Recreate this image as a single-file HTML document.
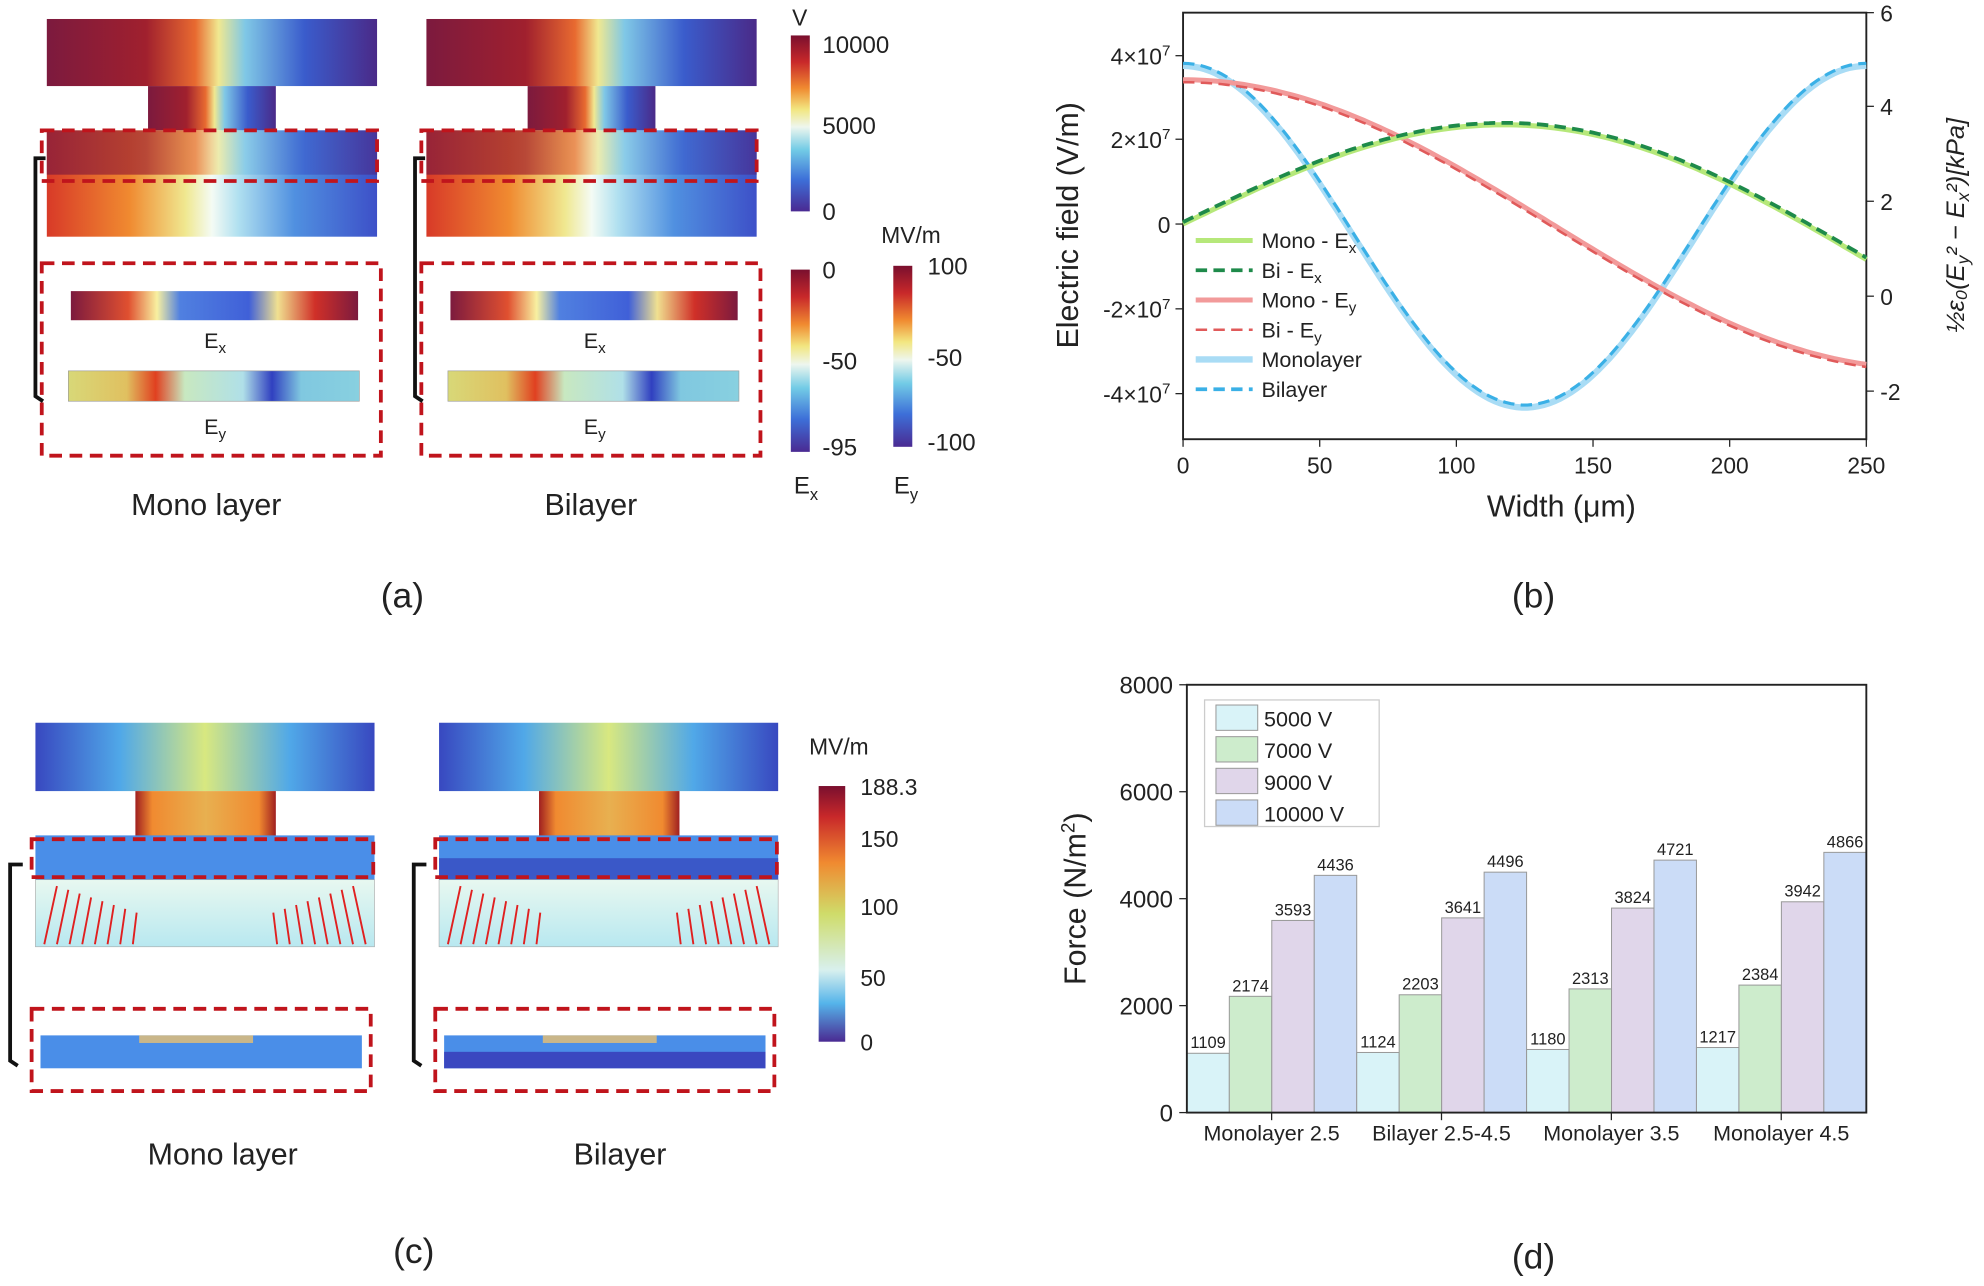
<!DOCTYPE html>
<html><head><meta charset="utf-8"><style>
html,body{margin:0;padding:0;background:#fff}
svg{display:block}
text{font-family:"Liberation Sans",sans-serif;fill:#222}
</style></head><body>
<svg id="s" width="1984" height="1286" viewBox="0 0 1568 1016" preserveAspectRatio="none" xmlns="http://www.w3.org/2000/svg">
<defs>
<linearGradient id="jetV" x1="0" y1="0" x2="0" y2="1">
<stop offset="0" stop-color="#7a0f2e"/><stop offset="0.15" stop-color="#c8282a"/><stop offset="0.3" stop-color="#f08a30"/><stop offset="0.42" stop-color="#f2e680"/><stop offset="0.52" stop-color="#eef6ee"/><stop offset="0.65" stop-color="#72cbe6"/><stop offset="0.82" stop-color="#3d6fd8"/><stop offset="1" stop-color="#4a2a92"/></linearGradient>
<linearGradient id="jetC" x1="0" y1="0" x2="0" y2="1">
<stop offset="0" stop-color="#7a0f2e"/><stop offset="0.12" stop-color="#c8282a"/><stop offset="0.3" stop-color="#f08a30"/><stop offset="0.5" stop-color="#cfdc6a"/><stop offset="0.72" stop-color="#d8f0ee"/><stop offset="0.85" stop-color="#55b4ea"/><stop offset="1" stop-color="#4a2a92"/></linearGradient>
<linearGradient id="topA" x1="0" y1="0" x2="1" y2="0">
<stop offset="0" stop-color="#7c1a3e"/><stop offset="0.3" stop-color="#a0202e"/><stop offset="0.45" stop-color="#e86a30"/><stop offset="0.52" stop-color="#f0e890"/><stop offset="0.6" stop-color="#80c8e6"/><stop offset="0.78" stop-color="#3a5ccc"/><stop offset="1" stop-color="#4a2a88"/></linearGradient>
<linearGradient id="botA" x1="0" y1="0" x2="1" y2="0">
<stop offset="0" stop-color="#d83a28"/><stop offset="0.25" stop-color="#f08a30"/><stop offset="0.42" stop-color="#f0e890"/><stop offset="0.5" stop-color="#f4fbf4"/><stop offset="0.58" stop-color="#b0e0f0"/><stop offset="0.75" stop-color="#5090e0"/><stop offset="1" stop-color="#3d50c8"/></linearGradient>
<linearGradient id="exA" x1="0" y1="0" x2="1" y2="0">
<stop offset="0" stop-color="#7c1a3e"/><stop offset="0.2" stop-color="#e05030"/><stop offset="0.3" stop-color="#f8f0a0"/><stop offset="0.38" stop-color="#5080e0"/><stop offset="0.62" stop-color="#4060d8"/><stop offset="0.72" stop-color="#f0e090"/><stop offset="0.85" stop-color="#d03028"/><stop offset="1" stop-color="#7c1a3e"/></linearGradient>
<linearGradient id="eyA" x1="0" y1="0" x2="1" y2="0">
<stop offset="0" stop-color="#d8d878"/><stop offset="0.2" stop-color="#e0c060"/><stop offset="0.3" stop-color="#e04020"/><stop offset="0.4" stop-color="#c8e8c0"/><stop offset="0.6" stop-color="#b0e0e8"/><stop offset="0.7" stop-color="#3040c0"/><stop offset="0.8" stop-color="#80c8e0"/><stop offset="1" stop-color="#88d0e0"/></linearGradient>
<linearGradient id="topC" x1="0" y1="0" x2="1" y2="0">
<stop offset="0" stop-color="#3848c0"/><stop offset="0.25" stop-color="#50a8e8"/><stop offset="0.5" stop-color="#d8e880"/><stop offset="0.75" stop-color="#50a8e8"/><stop offset="1" stop-color="#3848c0"/></linearGradient>
<linearGradient id="neckC" x1="0" y1="0" x2="1" y2="0">
<stop offset="0" stop-color="#a02020"/><stop offset="0.12" stop-color="#f08a30"/><stop offset="0.5" stop-color="#e8b050"/><stop offset="0.88" stop-color="#f08a30"/><stop offset="1" stop-color="#a02020"/></linearGradient>
<linearGradient id="midC" x1="0" y1="0" x2="0" y2="1">
<stop offset="0" stop-color="#e8f8f0"/><stop offset="1" stop-color="#b8e8f0"/></linearGradient>
</defs>
<g id="g"></g>
</svg>
<script>
const g=document.getElementById('g');let h='';
function R(x,y,w,hh,f,extra){h+=`<rect x="${x}" y="${y}" width="${w}" height="${hh}" fill="${f}" ${extra||''}/>`;}
function T(x,y,t,s,a,extra){h+=`<text x="${x}" y="${y}" font-size="${s}" text-anchor="${a||'middle'}" ${extra||''}>${t}</text>`;}
function D(x,y,w,hh){h+=`<rect x="${x}" y="${y}" width="${w}" height="${hh}" fill="none" stroke="#c0141c" stroke-width="3" stroke-dasharray="10,6"/>`;}
for(const o of [0,300]){
 R(37+o,15,261,53,'url(#topA)');R(117+o,68,101,35,'url(#topA)');
 R(37+o,103,261,84,'url(#botA)');
 R(37+o,103,261,35,'url(#topA)','opacity="0.7"');
 D(33+o,103,265,40);D(33+o,208,268,152);
 R(56+o,230,227,23,'url(#exA)');R(54+o,293,230,24,'url(#eyA)','stroke="#999" stroke-width="0.5"');
 h+=`<text x="${170+o}" y="275" font-size="17" text-anchor="middle">E<tspan font-size="12" dy="4">x</tspan></text>`;
 h+=`<text x="${170+o}" y="343" font-size="17" text-anchor="middle">E<tspan font-size="12" dy="4">y</tspan></text>`;
 h+=`<path d="M${36+o},125 L${28+o},125 L${28+o},313 L${34+o},317" fill="none" stroke="#111" stroke-width="3"/>`;
}
T(163,407,'Mono layer',24);T(467,407,'Bilayer',24);T(318,480,'(a)',28);
R(625,28,15,139,'url(#jetV)');T(632,20,'V',18);
T(650,42,'10000',19,'start');T(650,106,'5000',19,'start');T(650,174,'0',19,'start');
R(625,213,15,144,'url(#jetV)');R(706,210,15,143,'url(#jetV)');
T(720,192,'MV/m',18);
T(650,220,'0',19,'start');T(650,292,'-50',19,'start');T(650,360,'-95',19,'start');
T(733,217,'100',19,'start');T(733,289,'-50',19,'start');T(733,356,'-100',19,'start');
h+=`<text x="637" y="390" font-size="19" text-anchor="middle">E<tspan font-size="13" dy="5">x</tspan></text>`;
h+=`<text x="716" y="390" font-size="19" text-anchor="middle">E<tspan font-size="13" dy="5">y</tspan></text>`;
const X0=935,X1=1475;const xs=w=>X0+w*2.16;
h+=`<rect x="935" y="10" width="540" height="337" fill="none" stroke="#222" stroke-width="1.5"/>`;
for(const [v,y] of [['4×10<tspan dy="-7" font-size="12">7</tspan>',44],['2×10<tspan dy="-7" font-size="12">7</tspan>',110],['0',177],['-2×10<tspan dy="-7" font-size="12">7</tspan>',244],['-4×10<tspan dy="-7" font-size="12">7</tspan>',311]]){h+=`<line x1="935" y1="${y}" x2="929" y2="${y}" stroke="#222"/>`;T(925,y+7,v,18,'end');}
for(const [v,y] of [['6',10],['4',84],['2',159],['0',234],['-2',309]]){h+=`<line x1="1475" y1="${y}" x2="1481" y2="${y}" stroke="#222"/>`;T(1486,y+7,v,18,'start');}
for(let w=0;w<=250;w+=50){h+=`<line x1="${xs(w)}" y1="347" x2="${xs(w)}" y2="353" stroke="#222"/>`;T(xs(w),374,w,18);}
T(1234,408,'Width (μm)',24);
T(0,0,'Electric field (V/m)',24,'middle','transform="translate(852,178) rotate(-90)"');
h+=`<text transform="translate(1552,178) rotate(-90)" font-size="20" text-anchor="middle" font-style="italic" font-family="Liberation Serif">½ε₀(E<tspan font-size="14" dy="4">y</tspan><tspan dy="-4">² − E</tspan><tspan font-size="14" dy="4">x</tspan><tspan dy="-4">²)[kPa]</tspan></text>`;
function P(f,c,dash,wd,off){let d='';for(let w=0;w<=250;w+=2){d+=(w?'L':'M')+xs(w).toFixed(1)+','+(f(w)+(off||0)).toFixed(1);}h+=`<path d="${d}" fill="none" stroke="${c}" stroke-width="${wd}" ${dash?'stroke-dasharray="9,5"':''}/>`;}
const ex=w=>177+28*(w/250)-92*Math.sin(Math.PI*w/250);
const ey=w=>177-114*Math.cos(Math.PI*w/270);
const pr=w=>187-135*Math.cos(2*Math.PI*w/250);
P(pr,'#a9dcf5',0,5);P(w=>pr(w)-2,'#3ab0e6',1,2.5);
P(ey,'#f29a9a',0,4);P(w=>ey(w)+2,'#e05a5a',1,2);
P(ex,'#b6e87a',0,4);P(w=>ex(w)-1.5,'#1e8a4a',1,3);
const leg=[['Mono - E','x','#b6e87a',0,4],['Bi - E','x','#1e8a4a',1,3],['Mono - E','y','#f29a9a',0,4],['Bi - E','y','#e05a5a',1,2],['Monolayer','','#a9dcf5',0,5],['Bilayer','','#3ab0e6',1,3]];
leg.forEach((l,i)=>{const y=190+i*23.5;h+=`<line x1="945" y1="${y}" x2="990" y2="${y}" stroke="${l[2]}" stroke-width="${l[4]}" ${l[3]?'stroke-dasharray="9,5"':''}/>`;h+=`<text x="997" y="${y+6}" font-size="17">${l[0]}<tspan font-size="12" dy="4">${l[1]}</tspan></text>`;});
T(1212,480,'(b)',28);
for(const [o,bi] of [[0,0],[319,1]]){
 R(28+o,571,268,54,'url(#topC)');R(107+o,625,111,40,'url(#neckC)');
 R(28+o,660,268,35,'#4a8ee8');if(bi)R(28+o,678,268,17,'#3a58c8');
 R(28+o,695,268,53,'url(#midC)','stroke="#aaa" stroke-width="0.5"');
 for(let i=0;i<8;i++){h+=`<line x1="${35+o+i*10}" y1="746" x2="${45+o+i*9}" y2="${700+i*3}" stroke="#e02020" stroke-width="1.5"/><line x1="${289+o-i*10}" y1="746" x2="${279+o-i*9}" y2="${700+i*3}" stroke="#e02020" stroke-width="1.5"/>`;}
 D(25+o,663,270,30);D(25+o,797,268,65);
 R(32+o,818,254,26,'#4a8ee8');if(bi)R(32+o,831,254,13,'#3a48c0');
 R(110+o,818,90,6,'#e8c070','opacity="0.8"');
 h+=`<path d="M${18+o},683 L${8+o},683 L${8+o},838 L${14+o},842" fill="none" stroke="#111" stroke-width="3"/>`;
}
T(176,920,'Mono layer',24);T(490,920,'Bilayer',24);T(327,998,'(c)',28);
R(647,621,21,202,'url(#jetC)');T(663,596,'MV/m',18);
for(const [v,y] of [['188.3',621],['150',662],['100',716],['50',772],['0',823]])T(680,y+7,v,18,'start');
const Y0=879,k=338/8000;
const vals=[[1109,2174,3593,4436],[1124,2203,3641,4496],[1180,2313,3824,4721],[1217,2384,3942,4866]];
const cols=['#d9f3f8','#cdeccc','#e0d6ea','#cbdcf7'];
vals.forEach((gv,gi)=>{gv.forEach((v,bi)=>{const x=938+gi*134.25+bi*33.56;const hh=v*k;R(x,Y0-hh,33.56,hh,cols[bi],'stroke="#999" stroke-width="0.8"');T(x+16.8,Y0-hh-4,v,13);});});
h+=`<rect x="938" y="541" width="537" height="338" fill="none" stroke="#222" stroke-width="1.5"/>`;
for(const v of [0,2000,4000,6000,8000]){const y=Y0-v*k;h+=`<line x1="938" y1="${y}" x2="932" y2="${y}" stroke="#222"/>`;T(927,y+7,v,19,'end');}
['Monolayer 2.5','Bilayer 2.5-4.5','Monolayer 3.5','Monolayer 4.5'].forEach((c,i)=>{h+=`<line x1="${1005+i*134.25}" y1="879" x2="${1005+i*134.25}" y2="885" stroke="#222"/>`;T(1005+i*134.25,901,c,17);});
h+=`<rect x="952" y="553" width="138" height="100" fill="#fff" stroke="#ccc"/>`;
['5000 V','7000 V','9000 V','10000 V'].forEach((t,i)=>{const y=557+i*25;R(961,y,33,20,cols[i],'stroke="#999" stroke-width="0.8"');T(999,y+17,t,17,'start');});
h+=`<text transform="translate(858,710) rotate(-90)" font-size="24" text-anchor="middle">Force (N/m<tspan font-size="15" dy="-9">2</tspan><tspan dy="9">)</tspan></text>`;
T(1212,1002,'(d)',28);
g.innerHTML=h;
</script>
</body></html>
